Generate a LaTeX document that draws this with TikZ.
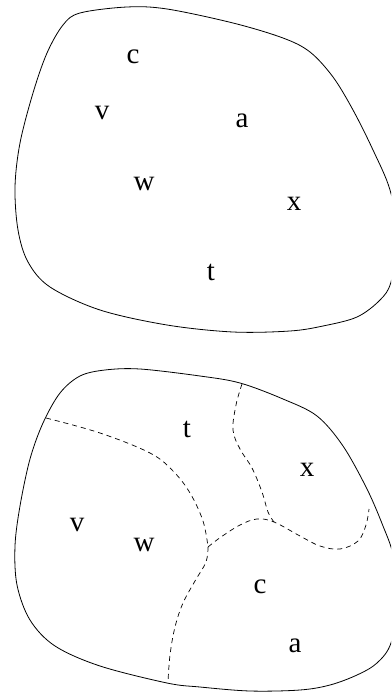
\documentclass[tikz,border=0pt]{standalone}
\usepackage{fontspec}
\setmainfont{Liberation Serif}
\begin{document}
\begin{tikzpicture}[x=1pt,y=-1pt,
  blob/.style={draw=black,line width=0.8pt},
  part/.style={draw=black,line width=0.7pt,dash pattern=on 5pt off 4pt},
  lbl/.style={inner sep=0pt,font=\fontsize{29}{29}\selectfont}]
\useasboundingbox (0,0) rectangle (391,692);
\clip (0,0) rectangle (391,692);
% top region
\draw[blob] plot[smooth cycle,tension=0.55] coordinates {
 (80,13) (127,7) (167,9) (233,23) (283,38) (310,52) (333,77) (353,110) (373,150) (390,190)
 (398,237) (391,282) (380,300) (357,317) (323,326) (290,331) (233,332) (167,325) (100,310) (50,287)
 (28,262) (18,230) (15,187) (20,143) (33,93) (47,53) (63,25)};
\node[lbl] (c1) at (133,57) {c};
\node[lbl] (v1) at (102,113) {v};
\node[lbl] (a1) at (242,121) {a};
\node[lbl] (w1) at (144,184) {w};
\node[lbl] (x1) at (294,204) {x};
\node[lbl] (t1) at (211,272) {t};
% bottom region
\draw[blob] plot[smooth cycle,tension=0.55] coordinates {
 (60,393) (80,376) (105,370) (140,369) (200,376) (240,383) (283,399) (317,416) (343,446)
 (367,489) (383,526) (393,555) (398,600) (391,643) (377,663) (357,675) (330,685) (300,690) (250,691)
 (200,687) (167,683) (100,666) (55,646) (30,620) (17,585) (15,546) (20,506) (30,459) (43,423)};
\coordinate (J) at (208,547);
\coordinate (K) at (274,522);
\draw[part] plot[smooth,tension=0.6] coordinates {(46,418) (100,433) (150,453) (173,471) (190,493) (203,521) (208,547)};
\draw[part] plot[smooth,tension=0.6] coordinates {(208,547) (206,562) (195,581) (183,603) (175,627) (170,655) (168,682)};
\draw[part] plot[smooth,tension=0.6] coordinates {(208,547) (221,537) (240,525) (257,519) (274,522) (300,536) (320,546) (340,549) (358,541) (366,525) (369,509)};
\draw[part] plot[smooth,tension=0.6] coordinates {(242,384) (236,405) (233,430) (240,449) (252,468) (262,492) (268,512) (274,522)};
\node[lbl] (t2) at (187,429) {t};
\node[lbl] (x2) at (307,470) {x};
\node[lbl] (v2) at (77,525) {v};
\node[lbl] (w2) at (144,545) {w};
\node[lbl] (c2) at (260,587) {c};
\node[lbl] (a2) at (295,646) {a};
\end{tikzpicture}
\end{document}
